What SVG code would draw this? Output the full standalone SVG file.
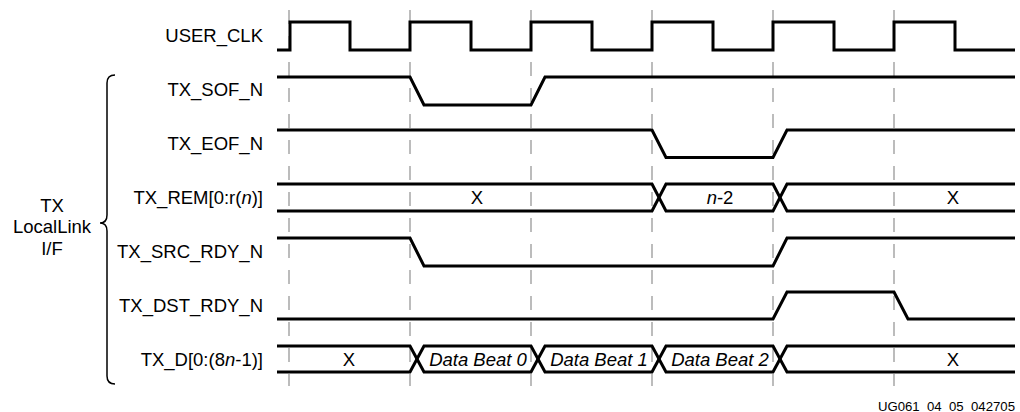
<svg xmlns="http://www.w3.org/2000/svg" width="1020" height="412" viewBox="0 0 1020 412">
<style>
text{font-family:"Liberation Sans",Arial,sans-serif;font-size:18.5px;fill:#000}
.lbl{text-anchor:end}
.mid{text-anchor:middle}
.it{font-style:italic}
.sig{fill:none;stroke:#000;stroke-width:3;stroke-linejoin:miter}
.grid{stroke:#a6a6a6;stroke-width:1.5;stroke-dasharray:14 12}
.brace{fill:none;stroke:#000;stroke-width:1.5}
</style>
<rect width="1020" height="412" fill="#fff"/>
<g id="gridlines">
<line class="grid" x1="289" y1="10" x2="289" y2="386"/>
<line class="grid" x1="410" y1="10" x2="410" y2="386"/>
<line class="grid" x1="531" y1="10" x2="531" y2="386"/>
<line class="grid" x1="652" y1="10" x2="652" y2="386"/>
<line class="grid" x1="773" y1="10" x2="773" y2="386"/>
<line class="grid" x1="894" y1="10" x2="894" y2="386"/>
</g>
<g id="user_clk">
<text class="lbl" x="263" y="42">USER_CLK</text>
<path class="sig" d="M277,50 H290 V22 H350 V50 H410 V22 H471 V50 H531 V22 H592 V50 H652 V22 H713 V50 H773 V22 H834 V50 H894 V22 H955 V50 H1015"/>
</g>
<g id="tx_sof_n">
<text class="lbl" x="263" y="96">TX_SOF_N</text>
<path class="sig" d="M277,77 H410 L424,105 H531 L545,77 H1015"/>
</g>
<g id="tx_eof_n">
<text class="lbl" x="263" y="150">TX_EOF_N</text>
<path class="sig" d="M277,130 H652 L666,157.5 H773 L787,130 H1015"/>
</g>
<g id="tx_rem">
<text class="lbl" x="263" y="204">TX_REM[0:r(<tspan class="it">n</tspan>)]</text>
<path class="sig" d="M277,184 H652 L666,211 H773 L787,184 H1015"/>
<path class="sig" d="M277,211 H652 L666,184 H773 L787,211 H1015"/>
<text class="mid" x="477" y="204">X</text>
<text class="mid" x="720" y="204"><tspan class="it">n</tspan>-2</text>
<text class="mid" x="953" y="204">X</text>
</g>
<g id="tx_src_rdy_n">
<text class="lbl" x="263" y="258">TX_SRC_RDY_N</text>
<path class="sig" d="M277,238 H410 L424,266 H773 L787,238 H1015"/>
</g>
<g id="tx_dst_rdy_n">
<text class="lbl" x="263" y="312">TX_DST_RDY_N</text>
<path class="sig" d="M277,319 H773 L787,292 H894 L908,319 H1015"/>
</g>
<g id="tx_d">
<text class="lbl" x="263" y="366">TX_D[0:(8<tspan class="it">n</tspan>-1)]</text>
<path class="sig" d="M277,346 H410 L424,372 H531 L545,346 H652 L666,372 H773 L787,346 H1015"/>
<path class="sig" d="M277,372 H410 L424,346 H531 L545,372 H652 L666,346 H773 L787,372 H1015"/>
<text class="mid" x="349" y="366">X</text>
<text class="mid it" x="478" y="366">Data Beat 0</text>
<text class="mid it" x="599" y="366">Data Beat 1</text>
<text class="mid it" x="720" y="366">Data Beat 2</text>
<text class="mid" x="953" y="366">X</text>
</g>
<g id="tx_locallink_if">
<path class="brace" d="M115,75 Q107,75 107,83 V215 Q107,223 100,223 Q107,223 107,231 V376 Q107,384 115,384"/>
<text class="mid" x="52" y="212">TX</text>
<text class="mid" x="52" y="233">LocalLink</text>
<text class="mid" x="52" y="255">I/F</text>
</g>
<g id="footer">
<text x="1015" y="411" text-anchor="end" style="font-size:13.2px;white-space:pre">UG061  04  05  042705</text>
</g>
</svg>
